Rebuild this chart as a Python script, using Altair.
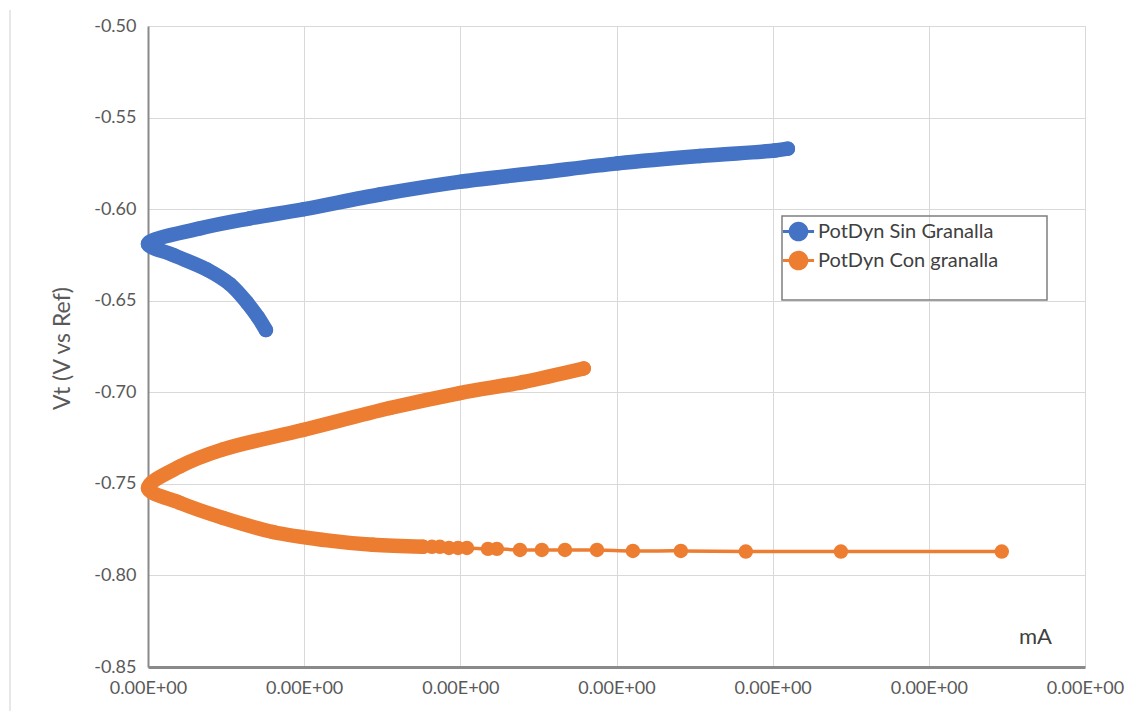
import altair as alt
import pandas as pd

# ---- data (x in units of the x-grid spacing) ----
series_names = ["PotDyn Sin Granalla", "PotDyn Con granalla"]
series_colors = ["#4472C4", "#ED7D31"]

blue_x = [0.755, 0.704, 0.634, 0.525, 0.378, 0.160, 0.0, 0.333, 0.653,
          1.0, 1.485, 2.004, 2.51, 3.009, 3.534, 4.014, 4.097]
blue_y = [-0.666, -0.659, -0.651, -0.641, -0.633, -0.625, -0.619, -0.6105,
          -0.605, -0.600, -0.592, -0.585, -0.580, -0.575, -0.571, -0.568, -0.567]

orange_x = [5.467, 4.437, 3.828, 3.412, 3.105, 2.875, 2.670, 2.522, 2.382, 2.234,
            2.177, 2.042, 1.985, 1.927, 1.869, 1.818,
            1.761, 1.440, 1.120, 0.800, 0.480, 0.205, 0.0, 0.205, 0.480, 0.992,
            1.549, 1.997, 2.401, 2.79]
orange_y = [-0.787, -0.787, -0.787, -0.7866, -0.7866, -0.7861, -0.7861, -0.7861,
            -0.7861, -0.7855, -0.7855, -0.785, -0.785, -0.785, -0.7844, -0.7844,
            -0.7844, -0.7833, -0.7806, -0.7763, -0.7686, -0.7604, -0.7523, -0.7405,
            -0.7312, -0.7206, -0.7086, -0.7004, -0.6944, -0.687]
# the first points of the orange scan are spread out (seen as separate dots)
orange_sparse_count = 16

x_ticks = [0, 1, 2, 3, 4, 5, 6]
x_tick_label = "0.00E+00"
y_ticks = [-0.85, -0.80, -0.75, -0.70, -0.65, -0.60, -0.55, -0.50]

rows = []
for i, (x, y) in enumerate(zip(blue_x, blue_y)):
    rows.append({"series": series_names[0], "x": x, "y": y, "idx": i, "dense": True})
for i, (x, y) in enumerate(zip(orange_x, orange_y)):
    rows.append({"series": series_names[1], "x": x, "y": y, "idx": i,
                 "dense": i >= orange_sparse_count})
df = pd.DataFrame(rows)

FONT = "Lato"
TXT = "#595959"

x_enc = alt.X("x:Q", scale=alt.Scale(domain=[0, 6], nice=False, zero=False),
              axis=alt.Axis(values=x_ticks, labelExpr=f"'{x_tick_label}'",
                            title="mA", titleX=887, titleY=-24,
                            titleAlign="center", titleBaseline="alphabetic",
                            titleFont=FONT, titleFontSize=22, titleFontWeight="normal",
                            titleColor="#404040",
                            labelFont=FONT, labelFontSize=18, labelColor=TXT,
                            labelPadding=12, ticks=False,
                            domainColor="#8a8a8a", domainWidth=3,
                            grid=True, gridColor="#d9d9d9", gridWidth=1,
                            labelFlush=False, labelOverlap=False))
y_enc = alt.Y("y:Q", scale=alt.Scale(domain=[-0.85, -0.50], nice=False, zero=False),
              axis=alt.Axis(values=y_ticks,
                            labelExpr="'-' + format(abs(datum.value), '.2f')",
                            title="Vt (V vs Ref)", titleX=-86, titleY=322,
                            titleAngle=-90, titleAlign="center", titleBaseline="middle",
                            titleFont=FONT, titleFontSize=23, titleFontWeight="normal",
                            titleColor=TXT,
                            labelFont=FONT, labelFontSize=18, labelColor=TXT,
                            labelPadding=12, ticks=False,
                            domainColor="#8a8a8a", domainWidth=2,
                            grid=True, gridColor="#d9d9d9", gridWidth=1,
                            labelFlush=False, labelOverlap=False))

legend_symbol = ("M-0.95,-0.09H0.95V0.09H-0.95Z "
                 "M0.6,0A0.6,0.6,0,1,1,-0.6,0A0.6,0.6,0,1,1,0.6,0Z")

color_enc = alt.Color("series:N",
                      scale=alt.Scale(domain=series_names, range=series_colors),
                      legend=alt.Legend(title=None, orient="none", legendX=634,
                                        legendY=189, symbolType=legend_symbol,
                                        symbolSize=1075, symbolStrokeWidth=0,
                                        labelFont=FONT, labelFontSize=20,
                                        labelLimit=400,
                                        labelColor="#404040", rowPadding=2,
                                        labelOffset=3, padding=0))

base = alt.Chart(df)

thin_line = base.mark_line(strokeWidth=3.5, interpolate="catmull-rom").encode(
    x=x_enc, y=y_enc, color=color_enc, detail="series:N", order="idx:Q")

thick_line = base.transform_filter("datum.dense").mark_line(
    strokeWidth=14.5, strokeCap="round", strokeJoin="round",
    interpolate="catmull-rom").encode(
    x="x:Q", y="y:Q", color=color_enc, detail="series:N", order="idx:Q")

points = base.mark_point(filled=True, shape="circle", size=210, opacity=1).encode(
    x="x:Q", y="y:Q", color=color_enc)

legend_box = alt.Chart(pd.DataFrame({"k": [0]})).mark_rect(
    fill=None, stroke="#7f7f7f", strokeWidth=1.5).encode(
    x=alt.value(634), x2=alt.value(899), y=alt.value(190), y2=alt.value(274))

outer_border = alt.Chart(pd.DataFrame({"k": [0]})).mark_rule(
    color="#e0e0e0", strokeWidth=1.5).encode(
    x=alt.value(-138), y=alt.value(-16), y2=alt.value(690))

chart = alt.layer(outer_border, thin_line, thick_line, points, legend_box).properties(
    width=937, height=641,
    autosize=alt.AutoSizeParams(type="none"),
    padding={"left": 140, "top": 18, "right": 40, "bottom": 44},
).configure_view(stroke=None).configure(background="white")

chart.save("out.html", embed_options={"renderer": "svg", "actions": False})
